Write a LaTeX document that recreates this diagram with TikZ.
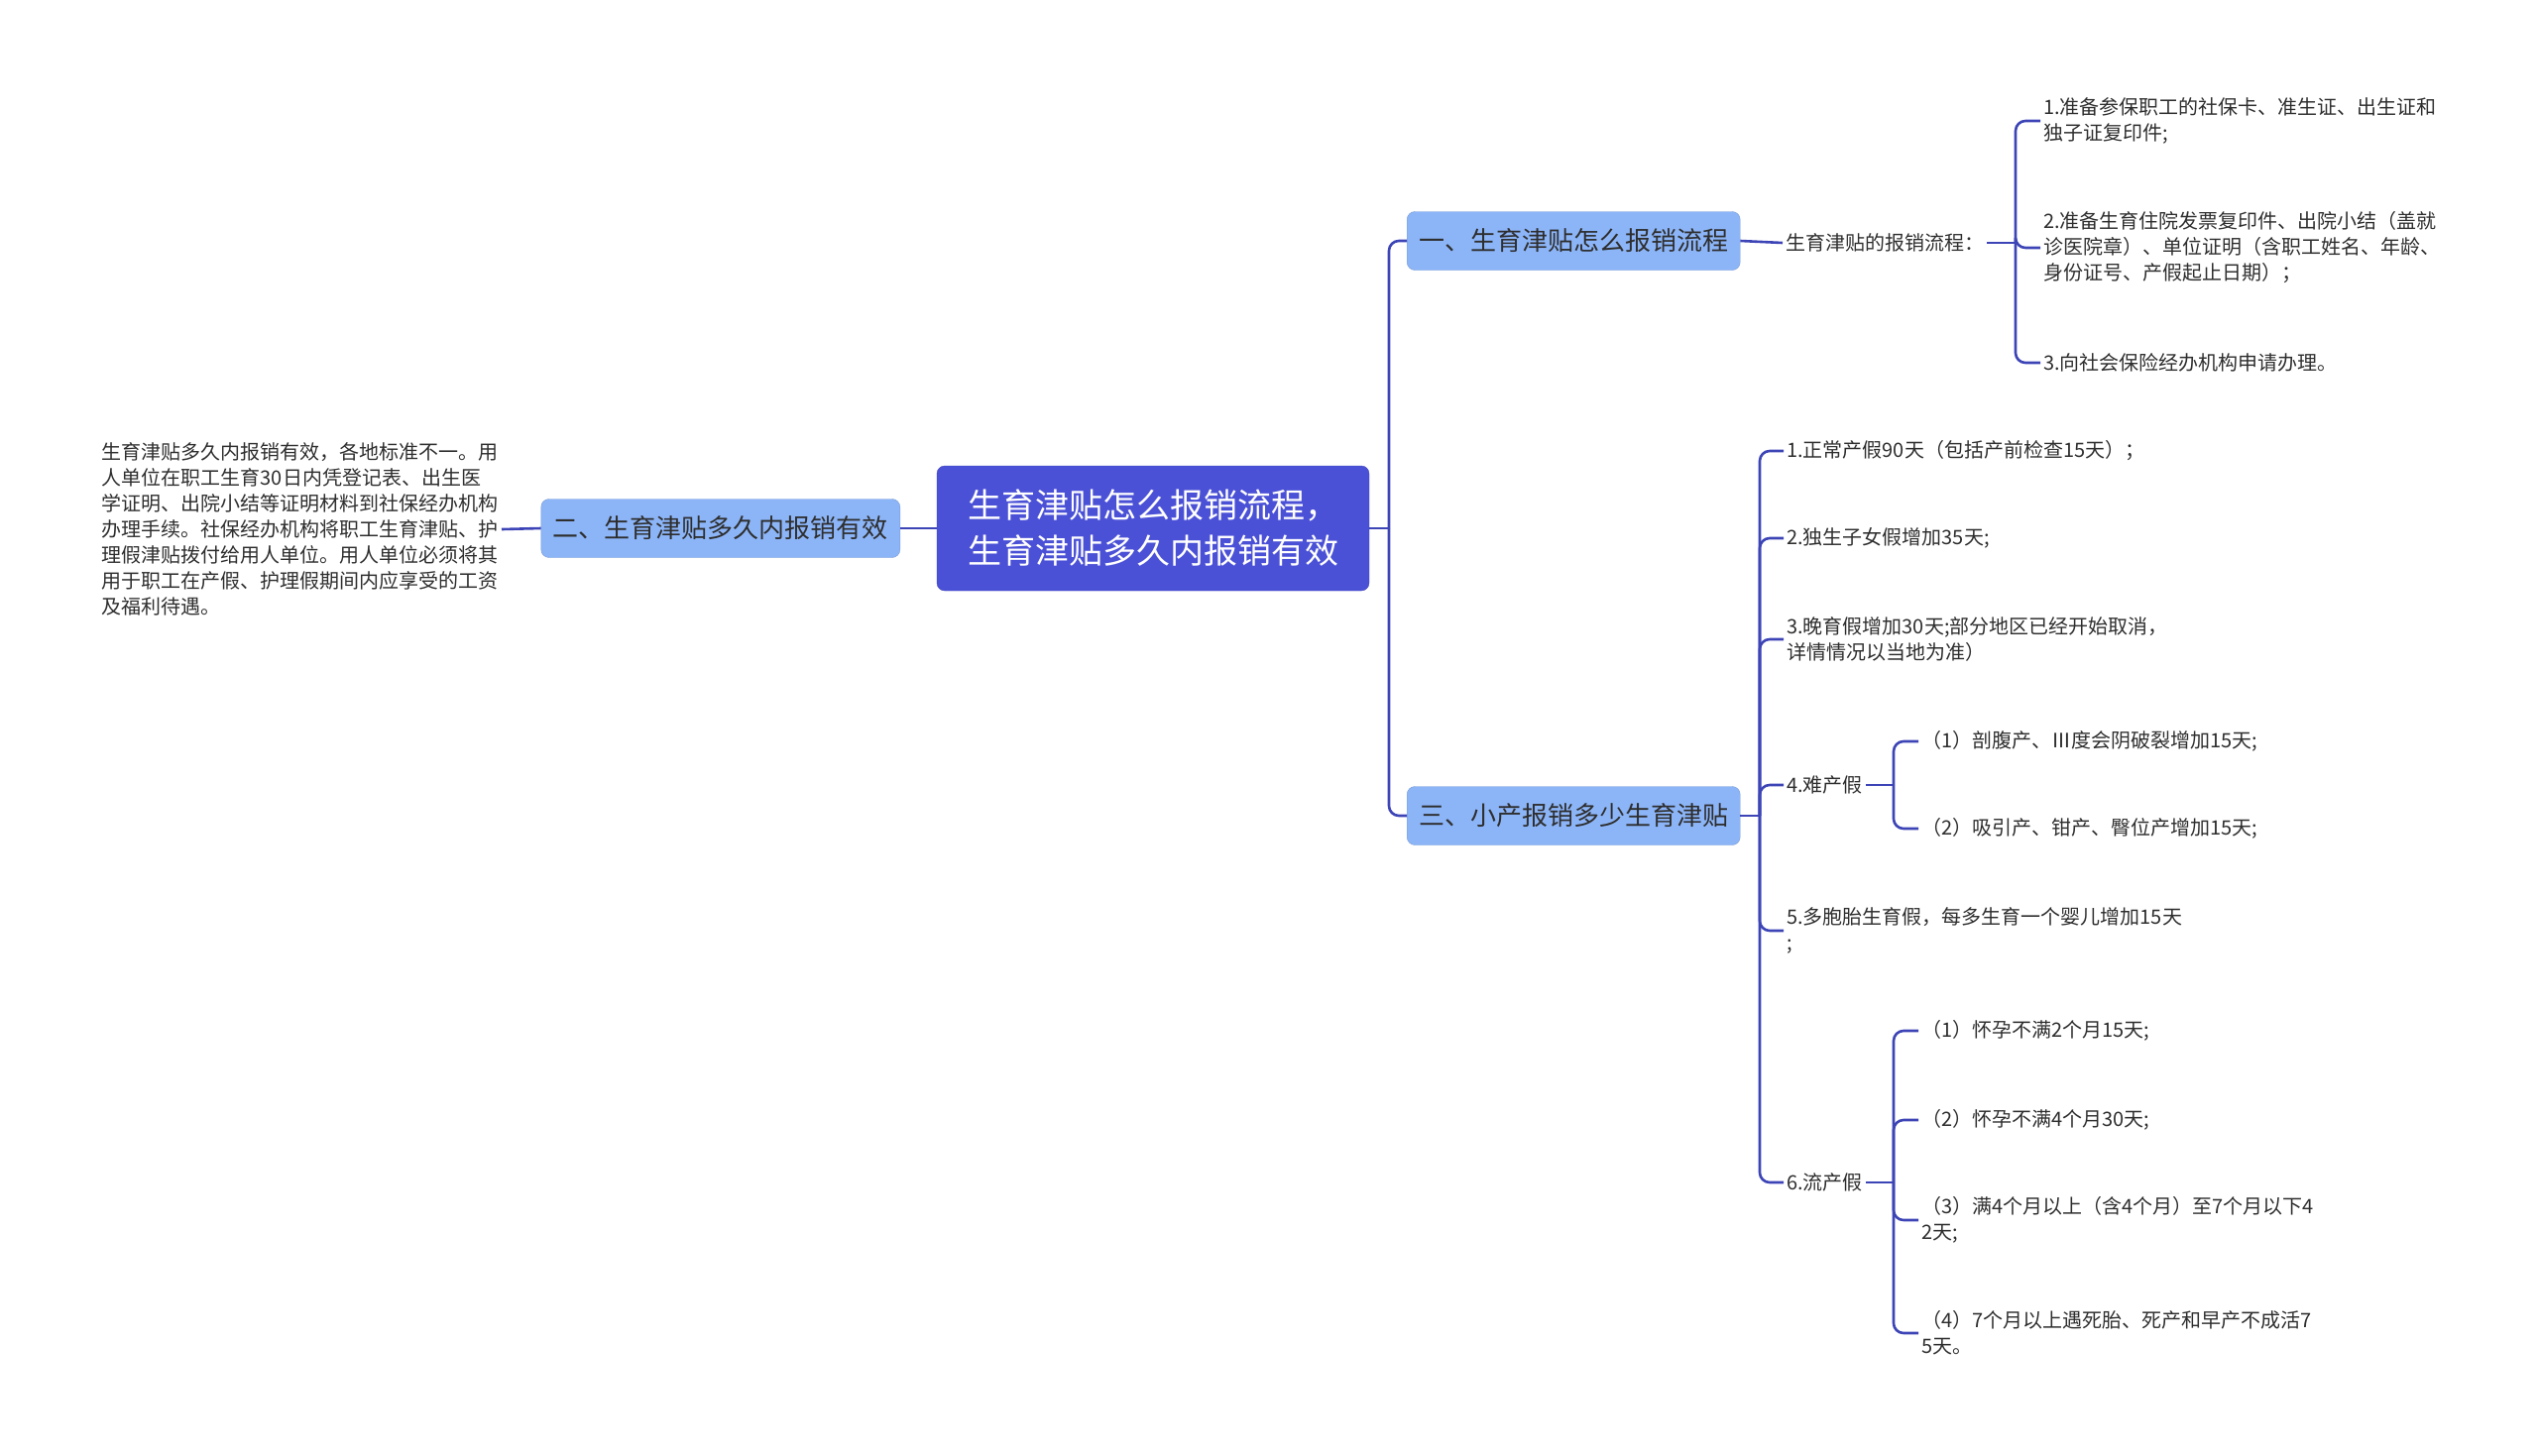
\documentclass[tikz,border=0pt]{standalone}
\usepackage{fontspec}
\setmainfont{Noto Sans CJK SC}
\usetikzlibrary{positioning}
\definecolor{ink}{HTML}{3D45B6}
\definecolor{rootfill}{HTML}{4B51D6}
\definecolor{subfill}{HTML}{8CB5F8}
\definecolor{txt}{HTML}{2E2E2E}

\begin{document}
\begin{tikzpicture}[x=1pt,y=-1pt,every node/.style={text=txt,align=left},
root/.style={fill=rootfill,draw=rootfill!85!black,rounded corners=8pt,text=white,font=\fontsize{34}{46}\selectfont,minimum width=436pt,minimum height=126pt},
branch/.style={fill=subfill,draw=subfill!85!black,rounded corners=8pt,font=\fontsize{26}{32}\selectfont,minimum height=59pt,inner xsep=12pt},
leaf/.style={font=\fontsize{20}{26}\selectfont,anchor=west,inner sep=3pt},
link/.style={draw=ink,line width=2.6pt,rounded corners=10pt}]
\useasboundingbox (0,0) rectangle (2560,1468);
\node[root] (r) at (1163,533) {生育津贴怎么报销流程，\\生育津贴多久内报销有效};
\node[branch,anchor=west] (a) at (1419,243) {一、生育津贴怎么报销流程};
\node[branch,anchor=east] (b) at (908,533) {二、生育津贴多久内报销有效};
\node[branch,anchor=west] (c) at (1419,823) {三、小产报销多少生育津贴};
\coordinate (jr) at (1401,533);
\draw[link] (r.east)--(jr);
\draw[link] (jr)|-(a.west);\draw[link] (jr)|-(c.west);
\draw[link] (r.west)--(b.east);
% 二
\node[leaf,anchor=east] (bt) at (506,534) {生育津贴多久内报销有效，各地标准不一。用\\人单位在职工生育30日内凭登记表、出生医\\学证明、出院小结等证明材料到社保经办机构\\办理手续。社保经办机构将职工生育津贴、护\\理假津贴拨付给用人单位。用人单位必须将其\\用于职工在产假、护理假期间内应享受的工资\\及福利待遇。};
\draw[link] (b.west)--(bt.east);
% 一
\node[leaf] (at) at (1798,245) {生育津贴的报销流程：};
\coordinate (ja) at (2033,245);
\draw[link] (a.east)--(at.west);\draw[link] (at.east)--(ja);
\node[leaf] (a1) at (2058,122) {1.准备参保职工的社保卡、准生证、出生证和\\独子证复印件;};
\node[leaf] (a2) at (2058,250) {2.准备生育住院发票复印件、出院小结（盖就\\诊医院章）、单位证明（含职工姓名、年龄、\\身份证号、产假起止日期）；};
\node[leaf] (a3) at (2058,366) {3.向社会保险经办机构申请办理。};
\foreach \n in {a1,a2,a3} \draw[link] (ja)|-(\n.west);
% 三
\coordinate (jc) at (1775,823);
\draw[link] (c.east)--(jc);
\node[leaf] (c1) at (1799,455) {1.正常产假90天（包括产前检查15天）；};
\node[leaf] (c2) at (1799,543) {2.独生子女假增加35天;};
\node[leaf] (c3) at (1799,645) {3.晚育假增加30天;部分地区已经开始取消，\\详情情况以当地为准）};
\node[leaf] (c4) at (1799,792) {4.难产假};
\node[leaf] (c5) at (1799,939) {5.多胞胎生育假，每多生育一个婴儿增加15天\\;};
\node[leaf] (c6) at (1799,1193) {6.流产假};
\foreach \n in {c1,c2,c3,c4,c5,c6} \draw[link] (jc)|-(\n.west);
% 难产假
\coordinate (jd) at (1910,792);
\draw[link] (c4.east)--(jd);
\node[leaf] (d1) at (1935,748) {（1）剖腹产、Ⅲ度会阴破裂增加15天;};
\node[leaf] (d2) at (1935,836) {（2）吸引产、钳产、臀位产增加15天;};
\foreach \n in {d1,d2} \draw[link] (jd)|-(\n.west);
% 流产假
\coordinate (je) at (1910,1193);
\draw[link] (c6.east)--(je);
\node[leaf] (e1) at (1935,1040) {（1）怀孕不满2个月15天;};
\node[leaf] (e2) at (1935,1130) {（2）怀孕不满4个月30天;};
\node[leaf] (e3) at (1935,1231) {（3）满4个月以上（含4个月）至7个月以下4\\2天;};
\node[leaf] (e4) at (1935,1345) {（4）7个月以上遇死胎、死产和早产不成活7\\5天。};
\foreach \n in {e1,e2,e3,e4} \draw[link] (je)|-(\n.west);
\end{tikzpicture}
\end{document}
